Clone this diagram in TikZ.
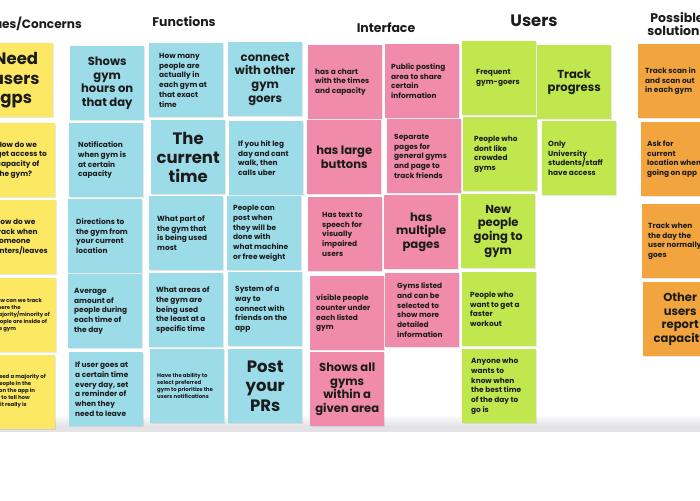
\documentclass[tikz,border=0pt]{standalone}
\usepackage{fontspec}
\setmainfont{Poppins}
\usetikzlibrary{shadows}

\definecolor{stickyyellow}{HTML}{FCE862}
\definecolor{stickyblue}{HTML}{9BDCE8}
\definecolor{stickypink}{HTML}{F08BAB}
\definecolor{stickygreen}{HTML}{C0E84E}
\definecolor{stickyorange}{HTML}{F2A43F}
\definecolor{inkdark}{HTML}{1C1C1C}
\definecolor{boardedge}{HTML}{E3E3E5}

% font sizes used on the notes
\newcommand\fsmall{\bfseries\fontsize{7.4}{9.7}\selectfont}
\newcommand\fmed{\bfseries\fontsize{11.6}{13.6}\selectfont}
\newcommand\fbig{\bfseries\fontsize{16.5}{19.2}\selectfont}
\newcommand\ftiny{\bfseries\fontsize{5.4}{7.0}\selectfont}
\newcommand\fhead{\bfseries\fontsize{12.5}{13}\selectfont}

\tikzset{
  note/.style={rectangle, anchor=north west, minimum width=74pt,
    minimum height=74pt, inner sep=0pt, draw=none,
    drop shadow={shadow xshift=0.3pt, shadow yshift=-1.2pt, opacity=0.18}},
  notetext/.style={anchor=west, align=left, inner sep=0pt, text=inkdark},
  notetextc/.style={anchor=center, align=center, inner sep=0pt, text=inkdark},
  heading/.style={inner sep=0pt, text=inkdark, font=\fhead},
}

% a note with left-aligned text: name, colour, x, y, inset, font, text
\newcommand\noteL[7]{%
  \node[note, fill=#2] (#1) at (#3,#4) {};
  \node[notetext, font=#6] (#1-t) at ([xshift=#5pt]#1.west) {#7};
}
% a note with centred text: name, colour, x, y, font, text
\newcommand\noteC[6]{%
  \node[note, fill=#2] (#1) at (#3,#4) {};
  \node[notetextc, font=#5] (#1-t) at (#1.center) {#6};
}

\begin{document}
\begin{tikzpicture}[x=1pt, y=-1pt]
\clip (0,0) rectangle (700,500);
\fill[white] (0,0) rectangle (700,500);

% lower edge of the board
\shade[top color=white, bottom color=boardedge] (0,414) rectangle (700,426);
\fill[boardedge] (0,426) rectangle (700,432);

% column headings
\node[heading, anchor=east, font=\bfseries\fontsize{12.1}{13}\selectfont] (h-issues) at (82,24) {Issues/Concerns};
\node[heading] (h-func) at (184,22) {Functions};
\node[heading] (h-inter) at (386,28) {Interface};
\node[heading, font=\bfseries\fontsize{16.5}{18}\selectfont] (h-users) at (534,21) {Users};
\node[heading, align=center] (h-sol) at (677,24) {Possible\\solutions};

% issues / concerns
\noteC{y1}{stickyyellow}{-21}{43}{\fbig}{Need\\users\\gps}
\node[note, fill=stickyyellow] (y2) at (-19,123) {};
\node[notetext, anchor=east, font=\fsmall] (y2-t) at (47,160) {How do we\\get access to\\capacity of\\the gym?};
\node[note, fill=stickyyellow] (y3) at (-18,200) {};
\node[notetext, anchor=east, font=\fsmall] (y3-t) at (48,237) {How do we\\track when\\someone\\enters/leaves};
\node[note, fill=stickyyellow] (y4) at (-18,278) {};
\node[notetext, anchor=east, font=\ftiny] (y4-t) at (50,315) {How can we track\\where the\\majority/minority of\\people are inside of\\the gym};
\node[note, fill=stickyyellow] (y5) at (-19,355) {};
\node[notetext, anchor=east, font=\ftiny] (y5-t) at (46,391) {We need a majority of\\the people in the\\gym on the app in\\order to tell how\\busy it really is};

% functions, first column
\noteC{b1}{stickyblue}{70}{46}{\fmed}{Shows\\gym\\hours on\\that day}
\noteL{b2}{stickyblue}{69}{123}{9}{\fsmall}{Notification\\when gym is\\at certain\\capacity}
\noteL{b3}{stickyblue}{68}{199}{8}{\fsmall}{Directions to\\the gym from\\your current\\location}
\noteL{b4}{stickyblue}{68}{274}{6}{\fsmall}{Average\\amount of\\people during\\each time of\\the day}
\noteL{b5}{stickyblue}{69}{352}{6}{\fsmall}{If user goes at\\a certain time\\every day, set\\a reminder of\\when they\\need to leave}

% functions, second column
\noteL{b6}{stickyblue}{149}{43}{10}{\fsmall}{How many\\people are\\actually in\\each gym at\\that exact\\time}
\noteC{b7}{stickyblue}{151}{120}{\fbig}{The\\current\\time}
\noteL{b8}{stickyblue}{149}{196}{8}{\fsmall}{What part of\\the gym that\\is being used\\most}
\noteL{b9}{stickyblue}{149}{273}{7}{\fsmall}{What areas of\\the gym are\\being used\\the least at a\\specific time}
\noteL{b10}{stickyblue}{150}{349}{7}{\ftiny}{Have the ability to\\select preferred\\gym to prioritize the\\users notifications}

% functions, third column
\noteC{b11}{stickyblue}{228}{42}{\fmed}{connect\\with other\\gym\\goers}
\noteL{b12}{stickyblue}{229}{121}{9}{\fsmall}{If you hit leg\\day and cant\\walk, then\\calls uber}
\noteL{b13}{stickyblue}{227}{196}{6}{\fsmall}{People can\\post when\\they will be\\done with\\what machine\\or free weight}
\noteL{b14}{stickyblue}{228}{272}{7}{\fsmall}{System of a\\way to\\connect with\\friends on the\\app}
\noteC{b15}{stickyblue}{228}{349}{\fbig}{Post\\your\\PRs}

% interface, first column
\noteL{p1}{stickypink}{308}{45}{7}{\fsmall}{has a chart\\with the times\\and capacity}
\noteC{p2}{stickypink}{307}{120}{\fmed}{has large\\buttons}
\noteL{p3}{stickypink}{308}{197}{14}{\fsmall}{Has text to\\speech for\\visually\\impaired\\users}
\noteL{p4}{stickypink}{310}{276}{6}{\fsmall}{visible people\\counter under\\each listed\\gym}
\noteC{p5}{stickypink}{310}{352}{\fmed}{Shows all\\gyms\\within a\\given area}

% interface, second column
\noteL{p6}{stickypink}{385}{44}{6}{\fsmall}{Public posting\\area to share\\certain\\information}
\noteL{p7}{stickypink}{387}{119}{7}{\fsmall}{Separate\\pages for\\general gyms\\and page to\\track friends}
\noteC{p8}{stickypink}{384}{195}{\fmed}{has\\multiple\\pages}
\noteL{p9}{stickypink}{385}{273}{12}{\fsmall}{Gyms listed\\and can be\\selected to\\show more\\detailed\\information}

% users
\noteL{g1}{stickygreen}{462}{41}{14}{\fsmall}{Frequent\\gym-goers}
\noteL{g2}{stickygreen}{463}{117}{11}{\fsmall}{People who\\dont like\\crowded\\gyms}
\noteC{g3}{stickygreen}{461}{194}{\fmed}{New\\people\\going to\\gym}
\noteL{g4}{stickygreen}{462}{272}{8}{\fsmall}{People who\\want to get a\\faster\\workout}
\noteL{g5}{stickygreen}{462}{349}{9}{\fsmall}{Anyone who\\wants to\\know when\\the best time\\of the day to\\go is}
\noteC{g6}{stickygreen}{537}{45}{\fmed}{Track\\progress}
\noteL{g7}{stickygreen}{542}{121}{6}{\fsmall}{Only\\University\\students/staff\\have access}

% possible solutions
\noteL{o1}{stickyorange}{638}{44}{7}{\fsmall}{Track scan in\\and scan out\\in each gym}
\noteL{o2}{stickyorange}{641}{122}{6}{\fsmall}{Ask for\\current\\location when\\going on app}
\noteL{o3}{stickyorange}{642}{204}{6}{\fsmall}{Track when\\the day the\\user normally\\goes}
\noteC{o4}{stickyorange}{643}{282}{\fmed}{Other\\users\\report\\capacity}
\end{tikzpicture}
\end{document}
